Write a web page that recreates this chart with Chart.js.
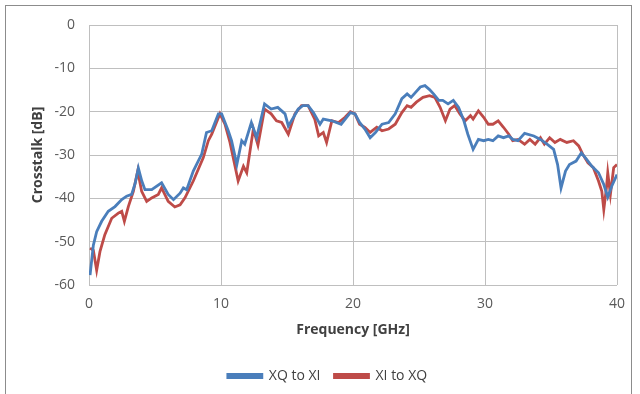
<!DOCTYPE html>
<html>
<head>
<meta charset="utf-8">
<script src="https://cdn.jsdelivr.net/npm/chart.js@4"></script>
<style>
  html, body { margin: 0; padding: 0; background: #fff; }
  #wrap { position: relative; width: 640px; height: 394px; overflow: hidden; }
  #frame { position: absolute; left: 5px; top: 5px; width: 627px; height: 400px; border: 1px solid #8c8c8c; box-sizing: border-box; }
  canvas { position: absolute; left: 0; top: 0; }
</style>
</head>
<body>
<div id="wrap">
  <div id="frame"></div>
  <canvas id="chart" width="640" height="394"></canvas>
</div>
<script>
// ─── Data ───
const freqXQ = [0.08,0.33,0.58,0.96,1.46,1.97,2.48,2.85,3.23,3.5,3.74,4.0,4.24,4.75,5.5,6.0,6.4,6.9,7.15,7.4,7.9,8.54,8.9,9.3,9.8,10.05,10.55,10.8,11.2,11.57,11.8,12.3,12.7,13.3,13.8,14.3,14.85,15.1,15.5,15.85,16.2,16.6,17.0,17.5,17.75,18.4,19.1,19.8,20.15,20.5,20.9,21.3,21.7,22.2,22.7,23.2,23.7,24.1,24.4,25.1,25.45,25.8,26.1,26.5,26.8,27.2,27.6,28.0,28.4,28.7,29.1,29.5,29.9,30.25,30.6,31.0,31.4,31.8,32.1,32.5,33.0,33.7,34.2,34.7,35.2,35.5,35.76,36.1,36.4,36.9,37.3,37.7,38.1,38.6,39.0,39.3,39.6,40.0];
const dbXQ   = [-57.7,-50.8,-47.7,-45.3,-43.0,-41.9,-40.3,-39.5,-39.1,-36.5,-33.0,-36.0,-38.0,-38.0,-36.4,-39.1,-40.3,-38.8,-37.6,-38.0,-33.7,-29.8,-24.8,-24.4,-20.5,-20.5,-24.4,-26.7,-32.2,-26.7,-27.5,-22.5,-26.0,-18.2,-19.4,-19.0,-20.5,-23.3,-21.3,-19.4,-18.6,-18.6,-20.2,-22.9,-21.7,-22.1,-22.9,-20.2,-20.5,-22.5,-24.0,-26.0,-24.8,-22.9,-22.5,-20.5,-17.0,-15.9,-16.7,-14.3,-14.0,-14.9,-15.9,-17.4,-17.4,-18.2,-17.4,-19.0,-22.1,-25.2,-28.7,-26.4,-26.7,-26.4,-26.7,-25.6,-26.0,-25.6,-26.4,-26.7,-25.0,-25.6,-26.4,-27.5,-28.7,-32.2,-37.6,-33.7,-32.2,-31.4,-29.5,-31.0,-32.6,-34.1,-36.8,-39.7,-37.2,-34.5];

const freqXI = [0.08,0.33,0.58,0.83,1.2,1.72,2.22,2.48,2.68,2.98,3.36,3.69,3.99,4.37,4.75,5.25,5.5,6.0,6.5,6.9,7.27,7.9,8.66,9.04,9.3,9.92,10.3,10.68,11.3,11.7,11.95,12.45,12.8,13.3,13.8,14.2,14.6,15.1,15.6,16.1,16.6,17.1,17.4,17.75,18.0,18.4,18.9,19.4,19.8,20.15,20.5,20.9,21.3,21.8,22.2,22.7,23.2,23.7,24.1,24.4,24.8,25.3,25.8,26.2,26.6,27.0,27.35,27.7,28.1,28.5,28.9,29.1,29.5,29.9,30.25,30.6,31.0,31.4,31.8,32.1,32.5,33.0,33.4,33.8,34.2,34.5,34.9,35.3,35.7,36.2,36.7,37.1,37.4,37.8,38.2,38.6,38.85,39.0,39.2,39.3,39.5,39.75,40.0];
const dbXI   = [-51.5,-52.0,-56.6,-52.3,-48.4,-44.6,-43.4,-43.0,-45.3,-41.9,-38.4,-33.7,-38.4,-40.7,-39.9,-39.1,-37.6,-40.7,-42.0,-41.5,-39.9,-36.0,-30.6,-26.7,-25.2,-20.5,-22.9,-27.1,-36.0,-32.6,-34.1,-24.0,-27.7,-19.4,-20.5,-22.1,-22.5,-25.2,-20.5,-18.6,-18.6,-21.7,-25.6,-24.8,-27.1,-22.1,-22.5,-21.3,-20.0,-20.5,-22.9,-23.6,-24.8,-23.6,-24.4,-24.0,-22.9,-20.2,-18.6,-19.0,-17.8,-16.7,-16.3,-16.7,-19.0,-22.1,-19.4,-18.6,-20.5,-22.1,-20.9,-21.7,-19.8,-21.3,-22.9,-22.9,-22.1,-23.6,-25.2,-26.7,-26.4,-27.5,-26.4,-27.5,-26.0,-27.5,-26.0,-27.1,-26.4,-27.1,-26.7,-27.9,-29.8,-31.8,-32.9,-36.0,-38.4,-42.6,-37.6,-34.1,-39.1,-32.9,-32.2];

const seriesNames = ['XQ to XI', 'XI to XQ'];
const xTicks = [0, 10, 20, 30, 40];
const yTicks = [0, -10, -20, -30, -40, -50, -60];

const BLUE = '#4a7ebb';
const RED  = '#be4b48';
const FONT = "'Open Sans', sans-serif";

const pts = (xs, ys) => xs.map((x, i) => ({ x, y: ys[i] }));

// legend in the reference sits centred on the whole frame, not on the plot
const legendShift = {
  id: 'legendShift',
  afterLayout(chart) { chart.legend.left += 19; chart.legend.right += 19; },
};

new Chart(document.getElementById('chart'), {
  type: 'line',
  data: {
    datasets: [
      { label: seriesNames[0], data: pts(freqXQ, dbXQ), borderColor: BLUE, backgroundColor: BLUE, borderWidth: 2.8, pointRadius: 0, tension: 0 },
      { label: seriesNames[1], data: pts(freqXI, dbXI), borderColor: RED,  backgroundColor: RED,  borderWidth: 2.8, pointRadius: 0, tension: 0 },
    ],
  },
  plugins: [legendShift],
  options: {
    responsive: false,
    animation: false,
    layout: { padding: { left: 0, top: 25, right: 23, bottom: 1 } },
    plugins: {
      tooltip: { enabled: false },
      legend: {
        position: 'bottom',
        labels: { color: '#404040', font: { family: FONT, size: 14 }, boxWidth: 34, boxHeight: 3, padding: 14 },
      },
    },
    scales: {
      x: {
        type: 'linear', min: 0, max: 40,
        afterBuildTicks: s => { s.ticks = xTicks.map(v => ({ value: v })); },
        afterFit: s => { s.height = 70; },
        grid: { color: '#bfbfbf', lineWidth: 1, tickLength: 0 },
        border: { display: false },
        ticks: { color: '#595959', font: { family: FONT, size: 14 }, padding: 11, maxRotation: 0 },
        title: { display: true, text: 'Frequency [GHz]', color: '#404040', font: { family: FONT, size: 14, weight: 'bold' }, padding: { top: 4, bottom: 17 } },
      },
      y: {
        type: 'linear', min: -60, max: 0,
        afterBuildTicks: s => { s.ticks = yTicks.map(v => ({ value: v })); },
        afterFit: s => { s.width = 89; },
        grid: { color: '#bfbfbf', lineWidth: 1, tickLength: 0 },
        border: { display: false },
        ticks: { color: '#595959', font: { family: FONT, size: 14 }, padding: 14 },
        title: { display: true, text: 'Crosstalk [dB]', color: '#404040', font: { family: FONT, size: 14, weight: 'bold' }, padding: { top: 30 } },
      },
    },
  },
});
</script>
</body>
</html>
